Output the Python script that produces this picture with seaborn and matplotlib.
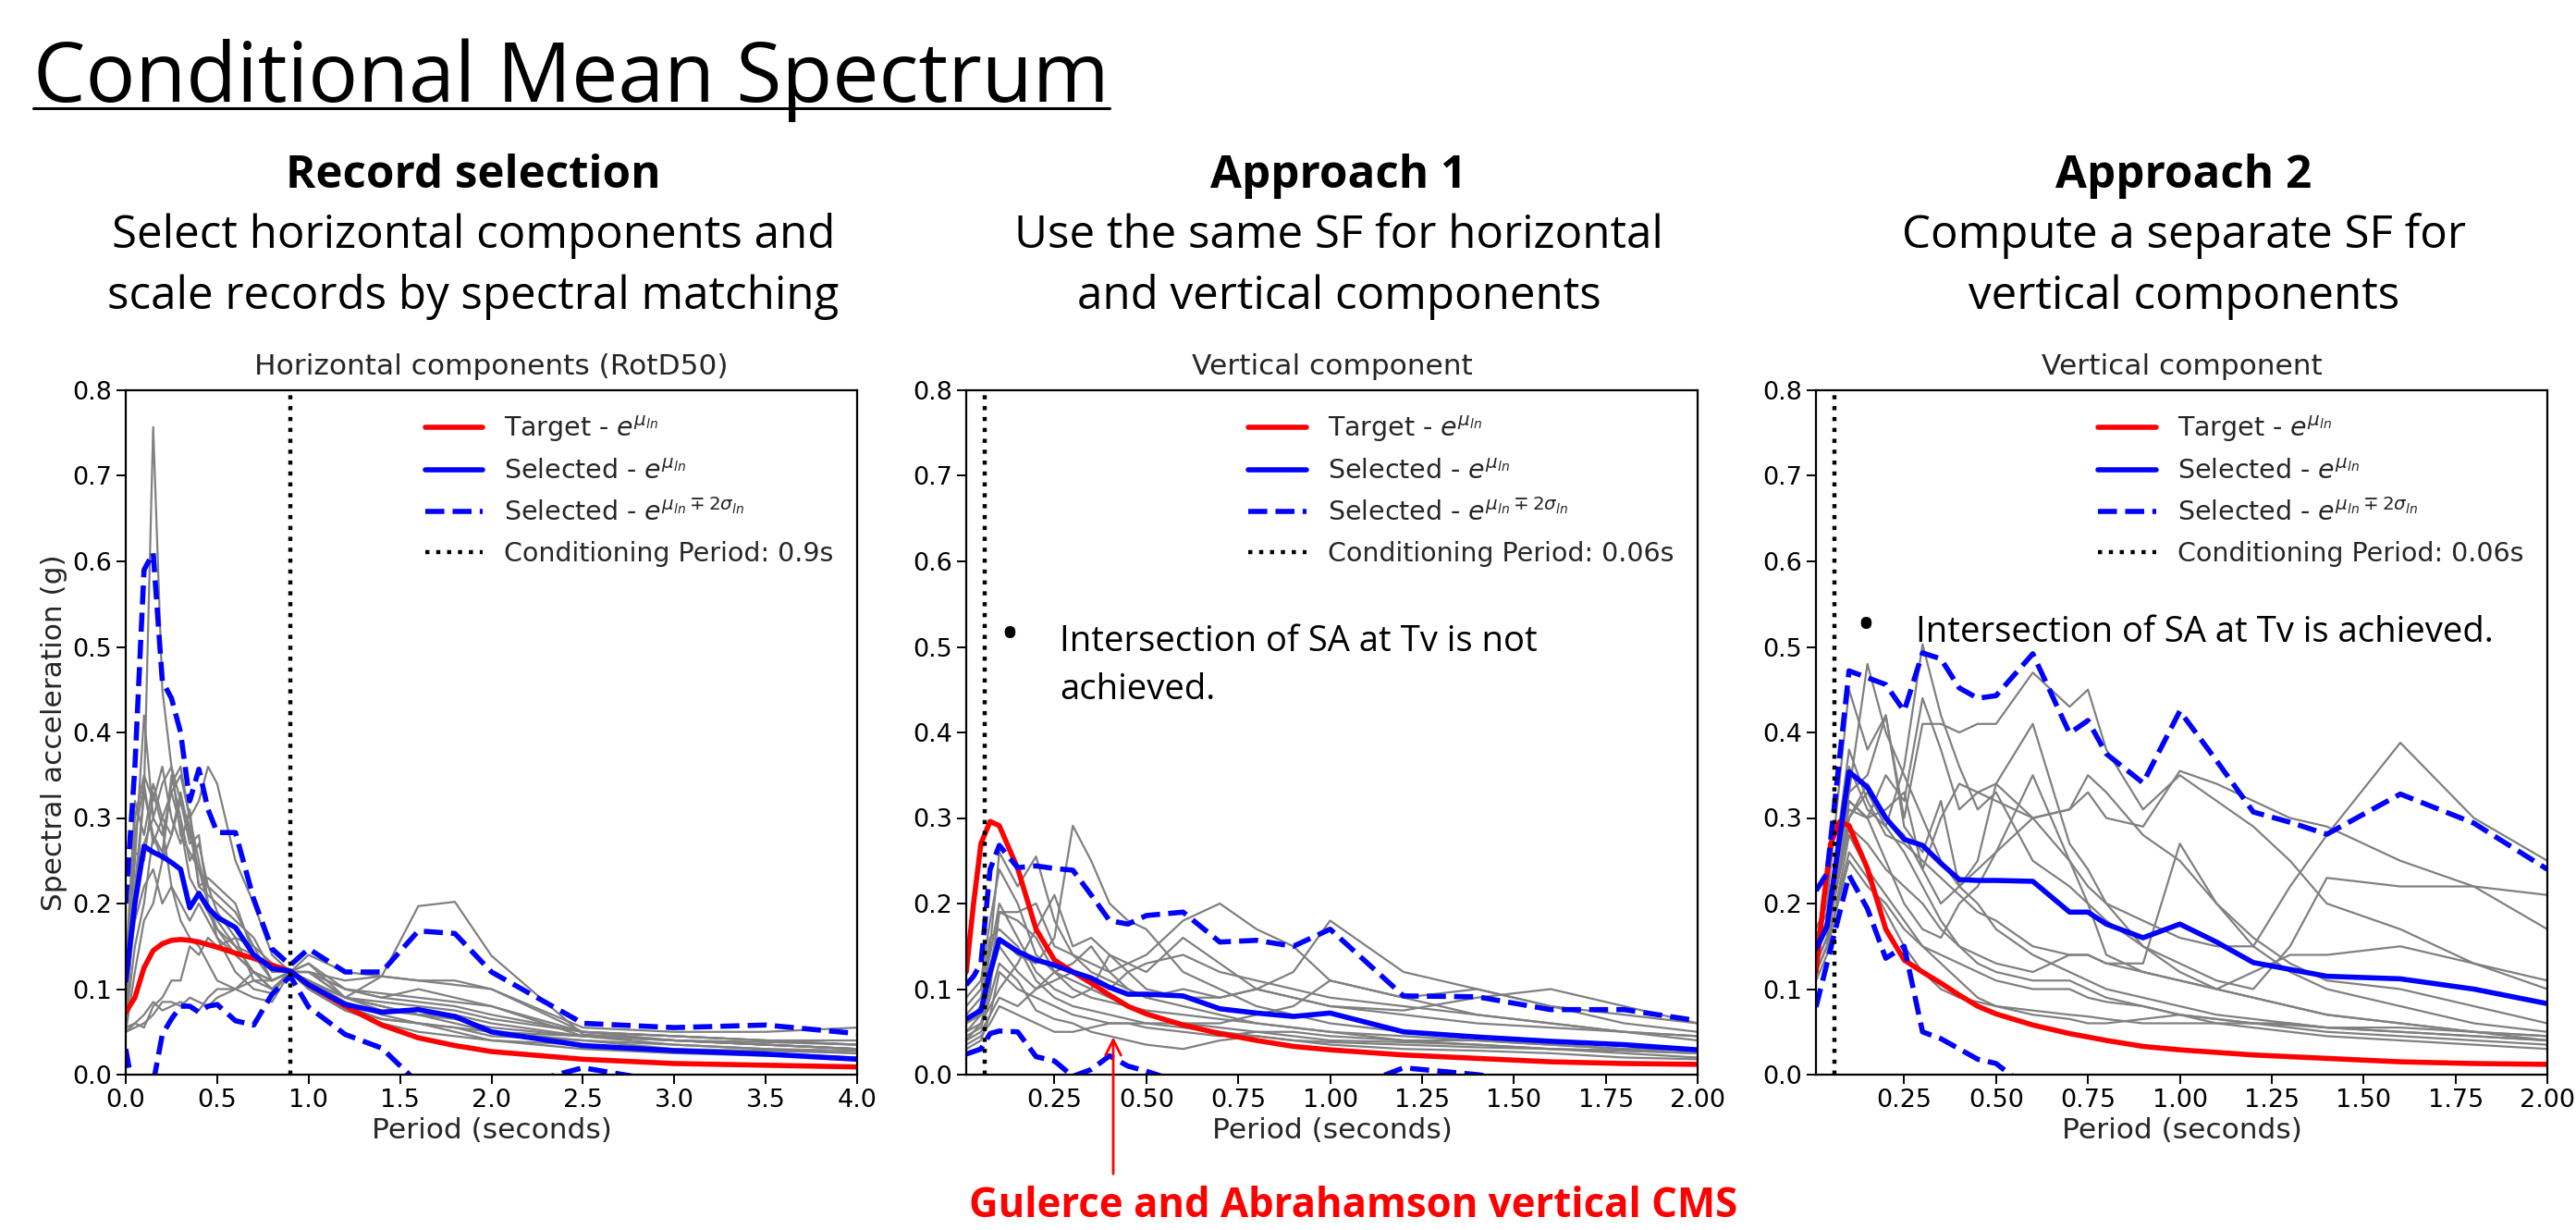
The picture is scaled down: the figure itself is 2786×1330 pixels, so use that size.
import numpy as np
import pandas as pd
import matplotlib
matplotlib.use('Agg')
import matplotlib.pyplot as plt
import seaborn as sns
from matplotlib.lines import Line2D

# ---- panel 1: horizontal components (RotD50) ----
periods_h = [0.0, 0.05, 0.1, 0.15, 0.2, 0.25, 0.3, 0.35, 0.4, 0.45, 0.5, 0.6, 0.7,
             0.8, 0.9, 1.0, 1.2, 1.4, 1.6, 1.8, 2.0, 2.5, 3.0, 3.5, 4.0]
target_h = [0.073, 0.09, 0.125, 0.145, 0.153, 0.157, 0.158, 0.157, 0.155, 0.152, 0.149, 0.142, 0.136,
            0.128, 0.121, 0.105, 0.080, 0.058, 0.043, 0.034, 0.027, 0.018, 0.013, 0.011, 0.009]
mean_h = [0.11, 0.20, 0.267, 0.26, 0.255, 0.248, 0.24, 0.195, 0.212, 0.195, 0.184, 0.172, 0.14,
          0.124, 0.121, 0.105, 0.082, 0.073, 0.076, 0.068, 0.05, 0.034, 0.028, 0.024, 0.018]
upper_h = [0.20, 0.36, 0.59, 0.61, 0.46, 0.44, 0.40, 0.32, 0.357, 0.31, 0.283, 0.283, 0.205,
           0.147, 0.128, 0.147, 0.12, 0.12, 0.168, 0.165, 0.12, 0.06, 0.055, 0.058, 0.048]
lower_h = [0.03, -0.03, -0.05, -0.01, 0.047, 0.065, 0.08, 0.08, 0.073, 0.08, 0.082, 0.063, 0.058,
           0.094, 0.115, 0.079, 0.047, 0.031, -0.01, -0.02, -0.02, 0.008, -0.01, -0.03, -0.04]
records_h = [
    [0.07, 0.20, 0.33, 0.757, 0.45, 0.36, 0.28, 0.26, 0.24, 0.20, 0.17, 0.15, 0.12, 0.10, 0.12, 0.11, 0.09, 0.075, 0.07, 0.065, 0.055, 0.045, 0.04, 0.035, 0.03],
    [0.08, 0.25, 0.42, 0.30, 0.28, 0.33, 0.35, 0.30, 0.32, 0.36, 0.34, 0.25, 0.20, 0.14, 0.12, 0.12, 0.10, 0.09, 0.085, 0.08, 0.07, 0.05, 0.045, 0.04, 0.035],
    [0.09, 0.30, 0.35, 0.32, 0.36, 0.30, 0.27, 0.31, 0.22, 0.21, 0.20, 0.18, 0.16, 0.12, 0.12, 0.14, 0.12, 0.115, 0.11, 0.11, 0.10, 0.05, 0.04, 0.035, 0.03],
    [0.06, 0.22, 0.33, 0.28, 0.25, 0.35, 0.30, 0.25, 0.27, 0.22, 0.19, 0.16, 0.11, 0.10, 0.12, 0.13, 0.09, 0.115, 0.197, 0.202, 0.139, 0.047, 0.04, 0.035, 0.03],
    [0.05, 0.12, 0.18, 0.20, 0.25, 0.28, 0.33, 0.28, 0.24, 0.22, 0.21, 0.19, 0.15, 0.11, 0.12, 0.11, 0.085, 0.07, 0.06, 0.055, 0.05, 0.045, 0.04, 0.038, 0.035],
    [0.05, 0.06, 0.055, 0.08, 0.09, 0.11, 0.11, 0.15, 0.14, 0.16, 0.15, 0.16, 0.15, 0.13, 0.12, 0.11, 0.09, 0.08, 0.07, 0.06, 0.05, 0.04, 0.035, 0.03, 0.028],
    [0.055, 0.06, 0.07, 0.085, 0.075, 0.08, 0.085, 0.08, 0.075, 0.09, 0.10, 0.10, 0.11, 0.11, 0.12, 0.12, 0.11, 0.115, 0.11, 0.105, 0.10, 0.055, 0.05, 0.05, 0.055],
    [0.08, 0.28, 0.34, 0.27, 0.30, 0.28, 0.32, 0.27, 0.28, 0.20, 0.18, 0.15, 0.14, 0.11, 0.12, 0.10, 0.075, 0.065, 0.06, 0.055, 0.045, 0.04, 0.03, 0.025, 0.02],
    [0.07, 0.19, 0.27, 0.30, 0.34, 0.36, 0.32, 0.29, 0.22, 0.23, 0.22, 0.20, 0.14, 0.13, 0.12, 0.13, 0.10, 0.09, 0.10, 0.09, 0.08, 0.045, 0.035, 0.03, 0.025],
    [0.09, 0.26, 0.25, 0.33, 0.29, 0.22, 0.20, 0.18, 0.20, 0.18, 0.16, 0.12, 0.10, 0.095, 0.12, 0.11, 0.08, 0.065, 0.06, 0.05, 0.04, 0.03, 0.025, 0.022, 0.02],
    [0.12, 0.32, 0.28, 0.34, 0.30, 0.33, 0.29, 0.23, 0.21, 0.19, 0.17, 0.14, 0.12, 0.10, 0.12, 0.12, 0.09, 0.085, 0.08, 0.075, 0.065, 0.05, 0.045, 0.04, 0.04],
    [0.10, 0.18, 0.22, 0.24, 0.20, 0.22, 0.18, 0.16, 0.15, 0.13, 0.11, 0.10, 0.09, 0.085, 0.12, 0.12, 0.09, 0.08, 0.07, 0.07, 0.06, 0.045, 0.04, 0.035, 0.03],
    [0.06, 0.15, 0.20, 0.28, 0.26, 0.34, 0.36, 0.30, 0.25, 0.20, 0.16, 0.14, 0.12, 0.11, 0.12, 0.12, 0.10, 0.095, 0.09, 0.085, 0.08, 0.05, 0.045, 0.04, 0.035],
    [0.05, 0.055, 0.06, 0.07, 0.085, 0.085, 0.08, 0.09, 0.085, 0.08, 0.09, 0.10, 0.12, 0.11, 0.12, 0.10, 0.075, 0.06, 0.05, 0.045, 0.04, 0.035, 0.03, 0.028, 0.025],
]

# ---- vertical target (Gulerce and Abrahamson CMS), used in panels 2 and 3 ----
periods_v = [0.01, 0.03, 0.05, 0.075, 0.1, 0.15, 0.2, 0.25, 0.3, 0.35, 0.4, 0.45, 0.5,
             0.6, 0.7, 0.8, 0.9, 1.0, 1.2, 1.4, 1.6, 1.8, 2.0]
target_v = [0.12, 0.20, 0.27, 0.296, 0.291, 0.241, 0.17, 0.134, 0.12, 0.107, 0.093, 0.08, 0.071,
            0.058, 0.048, 0.04, 0.033, 0.029, 0.023, 0.019, 0.015, 0.013, 0.012]

# ---- panel 2: approach 1 (same SF) ----
mean_a1 = [0.065, 0.07, 0.075, 0.12, 0.158, 0.144, 0.134, 0.128, 0.12, 0.113, 0.102, 0.094, 0.094,
           0.092, 0.077, 0.072, 0.068, 0.072, 0.05, 0.044, 0.039, 0.035, 0.029]
upper_a1 = [0.105, 0.115, 0.13, 0.24, 0.268, 0.242, 0.244, 0.241, 0.239, 0.21, 0.18, 0.176, 0.186,
            0.19, 0.155, 0.157, 0.15, 0.17, 0.092, 0.091, 0.076, 0.076, 0.063]
lower_a1 = [0.024, 0.027, 0.03, 0.048, 0.051, 0.05, 0.021, 0.016, -0.002, 0.006, 0.022, 0.01, 0.004,
            -0.01, -0.02, -0.02, -0.02, -0.025, 0.008, 0.0, -0.01, -0.01, -0.015]
records_a1 = [
    [0.06, 0.07, 0.08, 0.15, 0.26, 0.22, 0.255, 0.18, 0.14, 0.12, 0.11, 0.10, 0.09, 0.08, 0.07, 0.06, 0.055, 0.05, 0.045, 0.04, 0.035, 0.03, 0.028],
    [0.05, 0.06, 0.07, 0.12, 0.16, 0.14, 0.13, 0.16, 0.291, 0.25, 0.20, 0.18, 0.17, 0.12, 0.10, 0.08, 0.07, 0.06, 0.05, 0.045, 0.04, 0.035, 0.03],
    [0.04, 0.05, 0.06, 0.10, 0.19, 0.19, 0.20, 0.15, 0.14, 0.13, 0.12, 0.13, 0.14, 0.18, 0.20, 0.17, 0.15, 0.11, 0.09, 0.07, 0.06, 0.05, 0.045],
    [0.07, 0.08, 0.09, 0.14, 0.20, 0.16, 0.12, 0.10, 0.09, 0.10, 0.14, 0.12, 0.10, 0.09, 0.09, 0.10, 0.12, 0.18, 0.12, 0.10, 0.08, 0.07, 0.06],
    [0.03, 0.035, 0.04, 0.07, 0.12, 0.10, 0.09, 0.08, 0.07, 0.065, 0.06, 0.06, 0.06, 0.06, 0.06, 0.07, 0.08, 0.11, 0.09, 0.10, 0.08, 0.06, 0.05],
    [0.08, 0.09, 0.10, 0.16, 0.17, 0.15, 0.11, 0.09, 0.08, 0.075, 0.07, 0.065, 0.06, 0.055, 0.05, 0.045, 0.04, 0.038, 0.035, 0.032, 0.03, 0.028, 0.025],
    [0.045, 0.05, 0.055, 0.09, 0.13, 0.11, 0.075, 0.065, 0.06, 0.05, 0.045, 0.04, 0.035, 0.03, 0.04, 0.045, 0.04, 0.035, 0.03, 0.028, 0.025, 0.02, 0.018],
    [0.05, 0.055, 0.06, 0.08, 0.10, 0.13, 0.17, 0.21, 0.15, 0.16, 0.14, 0.13, 0.12, 0.16, 0.13, 0.10, 0.09, 0.08, 0.07, 0.06, 0.055, 0.05, 0.04],
    [0.06, 0.065, 0.07, 0.11, 0.15, 0.12, 0.10, 0.11, 0.12, 0.11, 0.10, 0.12, 0.13, 0.14, 0.12, 0.11, 0.10, 0.09, 0.08, 0.07, 0.06, 0.05, 0.045],
    [0.035, 0.04, 0.045, 0.06, 0.08, 0.07, 0.06, 0.05, 0.05, 0.055, 0.06, 0.06, 0.055, 0.05, 0.045, 0.05, 0.045, 0.04, 0.038, 0.035, 0.03, 0.028, 0.025],
    [0.09, 0.10, 0.11, 0.18, 0.24, 0.20, 0.14, 0.12, 0.10, 0.09, 0.085, 0.08, 0.075, 0.07, 0.065, 0.06, 0.055, 0.05, 0.04, 0.035, 0.03, 0.025, 0.02],
    [0.04, 0.045, 0.05, 0.07, 0.09, 0.08, 0.10, 0.12, 0.13, 0.15, 0.12, 0.10, 0.09, 0.10, 0.09, 0.10, 0.09, 0.08, 0.075, 0.09, 0.10, 0.08, 0.06],
    [0.06, 0.07, 0.08, 0.12, 0.19, 0.18, 0.16, 0.12, 0.11, 0.10, 0.09, 0.08, 0.07, 0.06, 0.055, 0.05, 0.05, 0.045, 0.04, 0.04, 0.035, 0.03, 0.03],
]

# ---- panel 3: approach 2 (separate SF) ----
periods_a2 = [0.01, 0.04, 0.1, 0.15, 0.2, 0.25, 0.3, 0.35, 0.4, 0.45, 0.5, 0.6, 0.7, 0.75,
              0.8, 0.9, 1.0, 1.1, 1.2, 1.3, 1.4, 1.6, 1.8, 2.0]
mean_a2 = [0.147, 0.173, 0.354, 0.336, 0.30, 0.275, 0.268, 0.247, 0.228, 0.227, 0.227, 0.226, 0.19, 0.19,
           0.176, 0.16, 0.176, 0.155, 0.131, 0.123, 0.115, 0.112, 0.10, 0.083]
upper_a2 = [0.215, 0.235, 0.472, 0.464, 0.456, 0.425, 0.493, 0.486, 0.452, 0.44, 0.443, 0.492, 0.399, 0.414,
            0.375, 0.341, 0.425, 0.367, 0.307, 0.295, 0.281, 0.328, 0.294, 0.24]
lower_a2 = [0.079, 0.13, 0.233, 0.194, 0.136, 0.15, 0.05, 0.042, 0.03, 0.018, 0.013, -0.02, -0.04, -0.05,
            -0.05, -0.05, -0.06, -0.06, -0.06, -0.06, -0.06, -0.06, -0.06, -0.06]
records_a2 = [
    [0.15, 0.18, 0.33, 0.48, 0.40, 0.35, 0.30, 0.25, 0.22, 0.20, 0.17, 0.14, 0.12, 0.11, 0.10, 0.09, 0.08, 0.07, 0.065, 0.06, 0.055, 0.05, 0.045, 0.04],
    [0.13, 0.16, 0.30, 0.33, 0.29, 0.36, 0.503, 0.42, 0.36, 0.31, 0.33, 0.25, 0.22, 0.20, 0.18, 0.15, 0.12, 0.10, 0.09, 0.08, 0.07, 0.06, 0.05, 0.045],
    [0.17, 0.20, 0.45, 0.38, 0.42, 0.30, 0.41, 0.41, 0.40, 0.41, 0.41, 0.47, 0.43, 0.45, 0.38, 0.31, 0.35, 0.32, 0.29, 0.25, 0.20, 0.17, 0.13, 0.10],
    [0.12, 0.15, 0.32, 0.30, 0.35, 0.32, 0.44, 0.38, 0.31, 0.33, 0.34, 0.30, 0.31, 0.35, 0.33, 0.28, 0.25, 0.20, 0.16, 0.13, 0.11, 0.10, 0.08, 0.06],
    [0.14, 0.17, 0.36, 0.31, 0.29, 0.26, 0.22, 0.18, 0.15, 0.13, 0.12, 0.11, 0.11, 0.10, 0.09, 0.08, 0.07, 0.065, 0.06, 0.06, 0.055, 0.05, 0.045, 0.04],
    [0.16, 0.19, 0.33, 0.35, 0.42, 0.29, 0.26, 0.32, 0.22, 0.25, 0.34, 0.41, 0.27, 0.24, 0.20, 0.15, 0.13, 0.11, 0.10, 0.15, 0.23, 0.22, 0.22, 0.21],
    [0.13, 0.16, 0.30, 0.34, 0.30, 0.28, 0.24, 0.20, 0.22, 0.24, 0.26, 0.30, 0.25, 0.22, 0.20, 0.18, 0.16, 0.15, 0.15, 0.22, 0.28, 0.388, 0.30, 0.25],
    [0.12, 0.15, 0.25, 0.22, 0.20, 0.17, 0.15, 0.14, 0.13, 0.12, 0.11, 0.10, 0.10, 0.09, 0.085, 0.08, 0.07, 0.065, 0.06, 0.055, 0.05, 0.045, 0.04, 0.035],
    [0.14, 0.18, 0.32, 0.30, 0.25, 0.20, 0.17, 0.16, 0.20, 0.22, 0.26, 0.35, 0.25, 0.20, 0.14, 0.12, 0.11, 0.10, 0.09, 0.08, 0.07, 0.06, 0.05, 0.04],
    [0.11, 0.14, 0.28, 0.24, 0.21, 0.18, 0.15, 0.13, 0.11, 0.09, 0.08, 0.07, 0.065, 0.06, 0.06, 0.065, 0.07, 0.06, 0.055, 0.05, 0.045, 0.04, 0.035, 0.03],
    [0.15, 0.18, 0.38, 0.32, 0.28, 0.27, 0.25, 0.23, 0.21, 0.19, 0.18, 0.15, 0.14, 0.14, 0.13, 0.13, 0.27, 0.20, 0.15, 0.12, 0.10, 0.08, 0.06, 0.05],
    [0.16, 0.20, 0.31, 0.30, 0.31, 0.33, 0.24, 0.30, 0.34, 0.33, 0.32, 0.30, 0.31, 0.33, 0.30, 0.29, 0.355, 0.34, 0.32, 0.30, 0.29, 0.25, 0.22, 0.17],
    [0.13, 0.16, 0.29, 0.27, 0.24, 0.22, 0.20, 0.17, 0.15, 0.14, 0.13, 0.12, 0.14, 0.14, 0.13, 0.12, 0.11, 0.10, 0.12, 0.14, 0.14, 0.15, 0.13, 0.11],
    [0.12, 0.15, 0.26, 0.23, 0.19, 0.15, 0.12, 0.10, 0.09, 0.085, 0.08, 0.075, 0.07, 0.068, 0.065, 0.06, 0.06, 0.06, 0.06, 0.058, 0.055, 0.055, 0.05, 0.045],
]

SLIDE_FONT = 'Open Sans'

sns.set_style('ticks')
plt.rcParams['font.family'] = ['DejaVu Sans']
plt.rcParams['axes.edgecolor'] = 'black'
plt.rcParams['axes.linewidth'] = 1.6


def records_frame(periods, records):
    rows = []
    for i, rec in enumerate(records):
        for t, v in zip(periods, rec):
            rows.append((i, t, v))
    return pd.DataFrame(rows, columns=['record', 'period', 'sa'])


def draw_panel(ax, periods, records, t_per, target, mean, upper, lower, tcond, title):
    df = records_frame(periods, records)
    sns.lineplot(data=df, x='period', y='sa', units='record', estimator=None,
                 color='gray', lw=1.6, ax=ax, legend=False)
    sns.lineplot(x=t_per, y=target, color='red', lw=4, ax=ax)
    sns.lineplot(x=periods, y=mean, color='blue', lw=4, ax=ax)
    sns.lineplot(x=periods, y=upper, color='blue', lw=4, ls='--', ax=ax)
    sns.lineplot(x=periods, y=lower, color='blue', lw=4, ls='--', ax=ax)
    ax.axvline(tcond, color='black', ls=':', lw=3.2)
    handles = [
        Line2D([], [], color='red', lw=4),
        Line2D([], [], color='blue', lw=4),
        Line2D([], [], color='blue', lw=4, ls='--'),
        Line2D([], [], color='black', lw=3.2, ls=':'),
    ]
    labels = [r'Target - $e^{\mu_{ln}}$', r'Selected - $e^{\mu_{ln}}$',
              r'Selected - $e^{\mu_{ln} \mp 2\sigma_{ln}}$',
              'Conditioning Period: %ss' % tcond]
    ax.legend(handles, labels, loc='upper right', frameon=False, fontsize=20.5,
              handlelength=2.2, labelspacing=0.55)
    ax.set_ylim(0, 0.8)
    ax.set_yticks(np.arange(0, 0.81, 0.1))
    ax.set_yticklabels(['%.1f' % v for v in np.arange(0, 0.81, 0.1)])
    ax.set_title(title, fontsize=22.5, pad=12)
    ax.set_xlabel('Period (seconds)', fontsize=22.5)
    ax.set_ylabel('')
    ax.tick_params(labelsize=19.5, length=7, width=1.4, colors='black')
    for s in ax.spines.values():
        s.set_visible(True)


fig = plt.figure(figsize=(27.86, 13.3), dpi=100)
ax_w, ax_h, ax_b = 791 / 2786, 740 / 1330, 168 / 1330
ax1 = fig.add_axes([136 / 2786, ax_b, ax_w, ax_h])
ax2 = fig.add_axes([1045 / 2786, ax_b, ax_w, ax_h])
ax3 = fig.add_axes([1964 / 2786, ax_b, ax_w, ax_h])

draw_panel(ax1, periods_h, records_h, periods_h, target_h, mean_h, upper_h, lower_h,
           0.9, 'Horizontal components (RotD50)')
ax1.set_xlim(0, 4)
ax1.set_xticks(np.arange(0, 4.01, 0.5))
ax1.set_xticklabels(['%.1f' % v for v in np.arange(0, 4.01, 0.5)])
ax1.set_ylabel('Spectral acceleration (g)', fontsize=22.5)

for ax, per, recs, mn, up, lo in [(ax2, periods_v, records_a1, mean_a1, upper_a1, lower_a1),
                                  (ax3, periods_a2, records_a2, mean_a2, upper_a2, lower_a2)]:
    draw_panel(ax, per, recs, periods_v, target_v, mn, up, lo, 0.06, 'Vertical component')
    ax.set_xlim(0.01, 2.0)
    ax.set_xticks(np.arange(0.25, 2.01, 0.25))
    ax.set_xticklabels(['%.2f' % v for v in np.arange(0.25, 2.01, 0.25)])

# slide text
H = 1330.0
W = 2786.0
title = fig.text(36 / W, 1 - 110 / H, 'Conditional Mean Spectrum', fontsize=64.5,
                 family=SLIDE_FONT, va='baseline', ha='left', color='black')

heads = [(512, 'Record selection', 'Select horizontal components and', 'scale records by spectral matching'),
         (1448, 'Approach 1', 'Use the same SF for horizontal', 'and vertical components'),
         (2362, 'Approach 2', 'Compute a separate SF for', 'vertical components')]
for xc, h, l1, l2 in heads:
    fig.text(xc / W, 1 - 203 / H, h, fontsize=35.5, fontweight='bold', family=SLIDE_FONT,
             ha='center', va='baseline', color='black')
    fig.text(xc / W, 1 - 268 / H, l1, fontsize=35.5, family=SLIDE_FONT, ha='center',
             va='baseline', color='black')
    fig.text(xc / W, 1 - 334 / H, l2, fontsize=35.5, family=SLIDE_FONT, ha='center',
             va='baseline', color='black')

fig.text(1092 / W, 1 - 689 / H, '\u2022', fontsize=40, family=SLIDE_FONT, ha='center',
         va='center', color='black')
fig.text(1146 / W, 1 - 704 / H, 'Intersection of SA at Tv is not', fontsize=27.5,
         family=SLIDE_FONT, va='baseline', color='black')
fig.text(1146 / W, 1 - 756 / H, 'achieved.', fontsize=27.5, family=SLIDE_FONT,
         va='baseline', color='black')
fig.text(2018 / W, 1 - 679 / H, '\u2022', fontsize=40, family=SLIDE_FONT, ha='center',
         va='center', color='black')
fig.text(2072 / W, 1 - 694 / H, 'Intersection of SA at Tv is achieved.', fontsize=27.5,
         family=SLIDE_FONT, va='baseline', color='black')

# red annotation: vertical arrow pointing at the target curve of panel 2
ax2.annotate('', xy=(0.41, 0.047), xycoords='data',
             xytext=(0.41, -0.119), textcoords='data',
             arrowprops=dict(arrowstyle='->', color='red', lw=2, mutation_scale=30),
             annotation_clip=False)
fig.text(1464 / W, 1 - 1316 / H, 'Gulerce and Abrahamson vertical CMS', fontsize=31.5,
         fontweight='bold', color='red', family=SLIDE_FONT, ha='center', va='baseline')

# underline the title
fig.canvas.draw()
bb = title.get_window_extent(fig.canvas.get_renderer())
fig.add_artist(Line2D([bb.x0 / W, bb.x1 / W], [1 - 117 / H, 1 - 117 / H],
                      color='black', lw=2.2, transform=fig.transFigure))

fig.savefig('out.png', dpi=100)
